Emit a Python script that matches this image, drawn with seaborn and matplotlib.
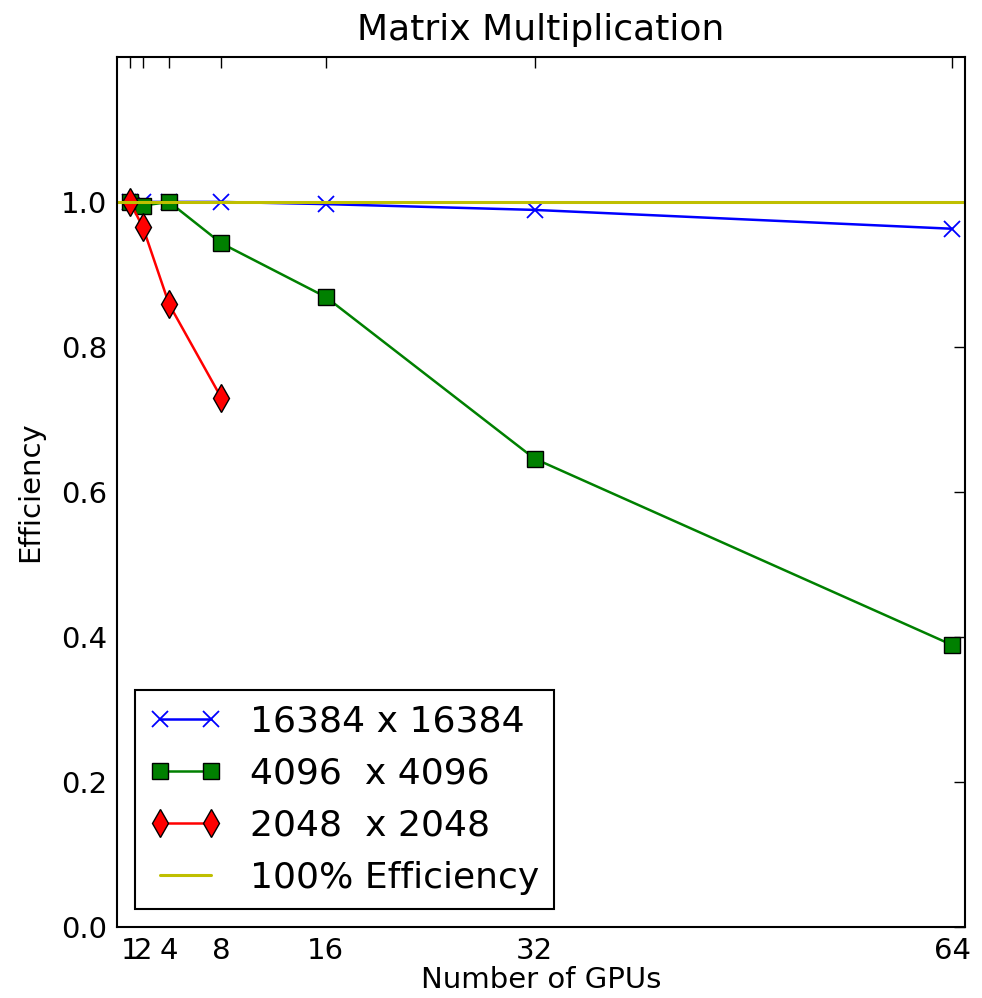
import matplotlib
matplotlib.use("Agg")
import matplotlib.pyplot as plt
import seaborn as sns

sns.set_style("white")
plt.rcParams['font.family'] = ['DejaVu Sans']
plt.rcParams['text.color'] = 'black'
plt.rcParams['axes.labelcolor'] = 'black'
plt.rcParams['xtick.color'] = 'black'
plt.rcParams['ytick.color'] = 'black'

gpus_16384 = [1, 2, 4, 8, 16, 32, 64]
eff_16384 = [1.0, 1.0, 1.0, 1.0, 0.997, 0.989, 0.963]
gpus_4096 = [1, 2, 4, 8, 16, 32, 64]
eff_4096 = [1.0, 0.995, 1.0, 0.943, 0.869, 0.646, 0.389]
gpus_2048 = [1, 2, 4, 8]
eff_2048 = [1.0, 0.965, 0.859, 0.730]
ideal_x = [0, 65]
ideal_y = [1.0, 1.0]
xticks = [1, 2, 4, 8, 16, 32, 64]
yticks = [0.0, 0.2, 0.4, 0.6, 0.8, 1.0]

fig = plt.figure(figsize=(9.82, 9.98), dpi=100)
ax = fig.add_axes([0.119, 0.071, 0.864, 0.872])

sns.lineplot(x=gpus_16384, y=eff_16384, ax=ax, color='#0000ff', marker='x',
             markersize=11, markeredgecolor='#0000ff', markeredgewidth=1.3,
             linewidth=1.8, label='16384 x 16384')
sns.lineplot(x=gpus_4096, y=eff_4096, ax=ax, color='#008000', marker='s',
             markersize=12, markeredgecolor='black', markeredgewidth=1.0,
             linewidth=1.8, label='4096  x 4096')
sns.lineplot(x=gpus_2048, y=eff_2048, ax=ax, color='#ff0000', marker='d',
             markersize=14, markeredgecolor='black', markeredgewidth=1.0,
             linewidth=1.8, label='2048  x 2048')
sns.lineplot(x=ideal_x, y=ideal_y, ax=ax, color='#bfbf00', linewidth=2.2,
             label='100% Efficiency')

ax.set_xlim(0, 65)
ax.set_ylim(0, 1.2)
ax.set_xticks(xticks)
ax.set_xticklabels([str(v) for v in xticks])
ax.set_yticks(yticks)
ax.set_yticklabels([f"{v:.1f}" for v in yticks])
ax.tick_params(direction='in', length=8, width=1, top=True, right=True,
               labelsize=21, pad=7, color='black', labelcolor='black')
for s in ax.spines.values():
    s.set_color('black')
    s.set_linewidth(1.5)

ax.set_title('Matrix Multiplication', fontsize=26, pad=12)
ax.set_xlabel('Number of GPUs', fontsize=21, labelpad=1)
ax.set_ylabel('Efficiency', fontsize=21, labelpad=12)

leg = ax.legend(loc='lower left', fontsize=26, numpoints=2, fancybox=False,
                frameon=True, handlelength=2.0, borderaxespad=0.5,
                bbox_to_anchor=(0.0, 0.0))
leg.get_frame().set_edgecolor('black')
leg.get_frame().set_linewidth(1.5)
leg.get_frame().set_alpha(1.0)
for t in leg.get_texts():
    t.set_color('black')

fig.savefig('out.png', dpi=100)
